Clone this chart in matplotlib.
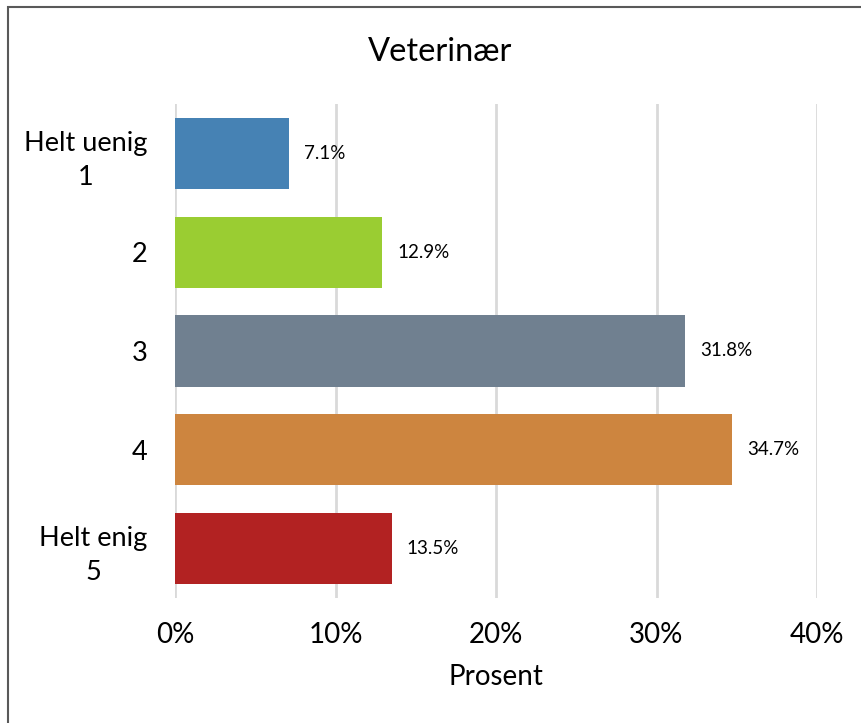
import matplotlib.pyplot as plt
from matplotlib.patches import Rectangle

plt.rcParams['font.family'] = ['Lato', 'DejaVu Sans']

categories = ['Helt uenig\n1', '2', '3', '4', 'Helt enig\n5']
values = [7.1, 12.9, 31.8, 34.7, 13.5]
colors = ['#4682B4', '#9ACD32', '#708090', '#CD853F', '#B22222']
xticks = [0, 10, 20, 30, 40]

fig = plt.figure(figsize=(8.61, 7.23), dpi=100)
ax = fig.add_axes([175 / 861, 1 - 598 / 723, 642 / 861, 494 / 723])

ypos = list(range(len(categories)))
ax.barh(ypos, values, height=0.72, color=colors, zorder=3)
for y, v in zip(ypos, values):
    ax.annotate(f'{v:.1f}%', (v, y), xytext=(15, 0), textcoords='offset pixels',
                va='center', ha='left', fontsize=13.5, color='black')

ax.set_xlim(0, 40)
ax.set_ylim(4.5, -0.5)
ax.set_xticks(xticks)
ax.set_xticklabels([f'{t}%' for t in xticks], fontsize=20)
ax.set_yticks(ypos)
ax.set_yticklabels(categories, fontsize=19.5, multialignment='center', linespacing=1.45)
ax.tick_params(axis='both', length=0)
ax.tick_params(axis='y', pad=20)
ax.tick_params(axis='x', pad=17)
ax.grid(axis='x', color='#D9D9D9', linewidth=2, zorder=0)
for s in ax.spines.values():
    s.set_visible(False)

ax.set_xlabel('Prosent', fontsize=20, labelpad=12)
fig.text(440 / 861, 1 - 52 / 723, 'Veterinær', ha='center', va='center', fontsize=23.5)

fig.patches.append(Rectangle((8 / 861, -0.1), 1.2, 1 - 7 / 723 + 0.1, transform=fig.transFigure,
                             fill=False, edgecolor='#595959', linewidth=1.5))

fig.savefig('out.png', dpi=100)
